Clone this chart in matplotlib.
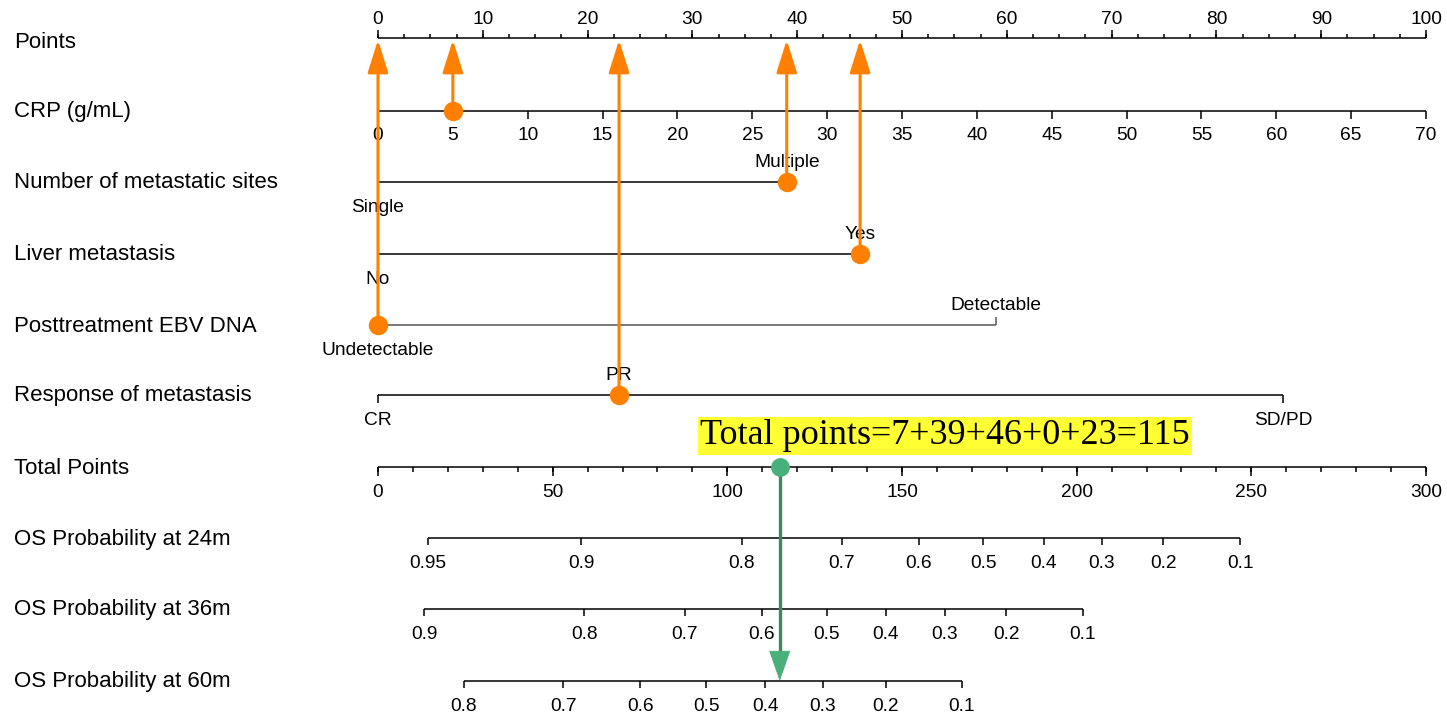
import matplotlib
matplotlib.use("Agg")
import matplotlib.pyplot as plt
import numpy as np
from matplotlib.patches import FancyArrowPatch
from matplotlib.transforms import blended_transform_factory

# ---------------- data ----------------
row_labels = ["Points", "CRP (g/mL)", "Number of metastatic sites", "Liver metastasis",
              "Posttreatment EBV DNA", "Response of metastasis", "Total Points",
              "OS Probability at 24m", "OS Probability at 36m", "OS Probability at 60m"]

points_major = list(range(0, 101, 10))
points_minor = list(np.arange(0, 100.01, 2.5))

crp_ticks = list(range(0, 71, 5))
crp_full = 70            # CRP value worth 100 points

met_levels = ["Single", "Multiple"]
met_points = [0, 39]
met_side = ["below", "above"]

liver_levels = ["No", "Yes"]
liver_points = [0, 46]
liver_side = ["below", "above"]

ebv_levels = ["Undetectable", "Detectable"]
ebv_points = [0, 59]
ebv_side = ["below", "above"]

resp_levels = ["CR", "PR", "SD/PD"]
resp_points = [0, 23, 86.4]
resp_side = ["below", "above", "below"]

total_major = list(range(0, 301, 50))
total_minor = list(range(0, 301, 10))
total_full = 300         # total points at right end of scale

os24_labels = ["0.95", "0.9", "0.8", "0.7", "0.6", "0.5", "0.4", "0.3", "0.2", "0.1"]
os24_total = [14.2, 58.2, 104.1, 132.8, 154.8, 173.3, 190.6, 207.2, 224.8, 246.8]
os36_labels = ["0.9", "0.8", "0.7", "0.6", "0.5", "0.4", "0.3", "0.2", "0.1"]
os36_total = [13.3, 59.1, 87.8, 109.8, 128.5, 145.3, 162.2, 179.8, 201.7]
os60_labels = ["0.8", "0.7", "0.6", "0.5", "0.4", "0.3", "0.2", "0.1"]
os60_total = [24.5, 53.1, 75.1, 93.9, 110.8, 127.4, 145.3, 167.1]

patient_crp = 5
patient_points = [7, 39, 46, 0, 23]     # CRP, sites, liver, EBV, response
patient_total = 115
annot_text = "Total points=7+39+46+0+23=115"

# ---------------- layout ----------------
W, H = 1447, 716
row_y = [38, 111, 182, 254, 325, 395, 467, 538, 609, 681]
label_y = [42, 112, 183, 254, 327, 396, 469, 540, 610, 682]
X0, X1 = 378, 1426
ppp = (X1 - X0) / 100.0
DY = 2.5   # visual offset for centred text

fig = plt.figure(figsize=(W / 100, H / 100), dpi=100)
ax = fig.add_axes([0, 0, 1, 1])
ax.set_xlim(-X0 / ppp, (W - X0) / ppp)
ax.set_ylim(H, 0)
ax.axis("off")

SANS = ["Liberation Sans", "DejaVu Sans"]
LBL = 16
TCK = 13.8
LW = 1.1
ORANGE = "#FF8000"
GREEN = "#48B078"
GREEN_D = "#3B8A5E"

trans = blended_transform_factory(ax.transAxes, ax.transData)
for lab, y in zip(row_labels, label_y):
    ax.text(14 / W, y, lab, transform=trans, ha="left", va="center",
            fontsize=LBL, family=SANS)


def hline(x0, x1, y, color="black", lw=LW):
    ax.plot([x0, x1], [y, y], color=color, lw=lw, solid_capstyle="butt", zorder=2)


def tick(x, y, length, color="black", lw=LW):
    ax.plot([x, x], [y, y + length], color=color, lw=lw, solid_capstyle="butt", zorder=2)


def label(x, y, s):
    ax.text(x, y + DY, s, ha="center", va="center", fontsize=TCK, family=SANS, zorder=3)


# Points axis (ticks up, labels above)
y = row_y[0]
hline(0, 100, y)
for v in points_minor:
    tick(v, y, -4.5)
for v in points_major:
    tick(v, y, -8)
    label(v, y - 21, str(v))

# CRP axis
y = row_y[1]
crp_x = [c * 100.0 / crp_full for c in crp_ticks]
hline(crp_x[0], crp_x[-1], y)
for c, x in zip(crp_ticks, crp_x):
    tick(x, y, 8)
    label(x, y + 22, str(c))


def cat_axis(y, levels, pts, sides, color="black"):
    hline(min(pts), max(pts), y, color=color)
    for lev, p, s in zip(levels, pts, sides):
        if s == "above":
            tick(p, y, -8, color=color)
            label(p, y - 22, lev)
        else:
            tick(p, y, 8, color=color)
            label(p, y + 23, lev)


cat_axis(row_y[2], met_levels, met_points, met_side)
cat_axis(row_y[3], liver_levels, liver_points, liver_side)
cat_axis(row_y[4], ebv_levels, ebv_points, ebv_side, color="#555555")
cat_axis(row_y[5], resp_levels, resp_points, resp_side)

# Total points axis
y = row_y[6]
sc = 100.0 / total_full
hline(0, total_full * sc, y)
for v in total_minor:
    tick(v * sc, y, 5)
for v in total_major:
    tick(v * sc, y, 9)
    label(v * sc, y + 23, str(v))

# Probability axes
for yy, labs, tots in [(row_y[7], os24_labels, os24_total),
                       (row_y[8], os36_labels, os36_total),
                       (row_y[9], os60_labels, os60_total)]:
    xs = [t * sc for t in tots]
    hline(min(xs), max(xs), yy)
    for lab, x in zip(labs, xs):
        tick(x, yy, 7)
        label(x, yy + 23, lab)

# Orange arrows from each patient value up to the Points axis
start_rows = [row_y[1], row_y[2], row_y[3], row_y[4], row_y[5]]
dot_x = [patient_crp * 100.0 / crp_full] + patient_points[1:]
for x, ys in zip(dot_x, start_rows):
    arr = FancyArrowPatch((x, ys), (x, row_y[0] + 2), arrowstyle="-|>,head_length=20,head_width=6.3",
                          mutation_scale=1, color=ORANGE, lw=2.2, shrinkA=0, shrinkB=0, zorder=5)
    ax.add_patch(arr)
    ax.plot([x], [ys], "o", color=ORANGE, ms=14, zorder=6, mec="none")

# Green arrow from total points down to the 60m probability axis
tx = patient_total * sc
head_len_px = 29
ax.plot([tx, tx], [row_y[6], row_y[9] - head_len_px + 1], color=GREEN_D, lw=2.4,
        solid_capstyle="butt", zorder=5)
head = FancyArrowPatch((tx, row_y[9] - head_len_px), (tx, row_y[9]),
                       arrowstyle="-|>,head_length=20.5,head_width=7.2",
                       mutation_scale=1, color=GREEN, lw=0.6, shrinkA=0, shrinkB=0, zorder=5)
ax.add_patch(head)
ax.plot([tx], [row_y[6]], "o", color=GREEN, ms=13.5, zorder=6, mec="none")

# Yellow annotation
ax.text(945 / W, 436, annot_text, transform=trans, ha="center", va="center",
        fontsize=26, family=["Liberation Serif", "DejaVu Serif"], zorder=7,
        bbox=dict(boxstyle="square,pad=0.06", facecolor="#FFFF33", edgecolor="none"))

fig.savefig("out.png", dpi=100)
